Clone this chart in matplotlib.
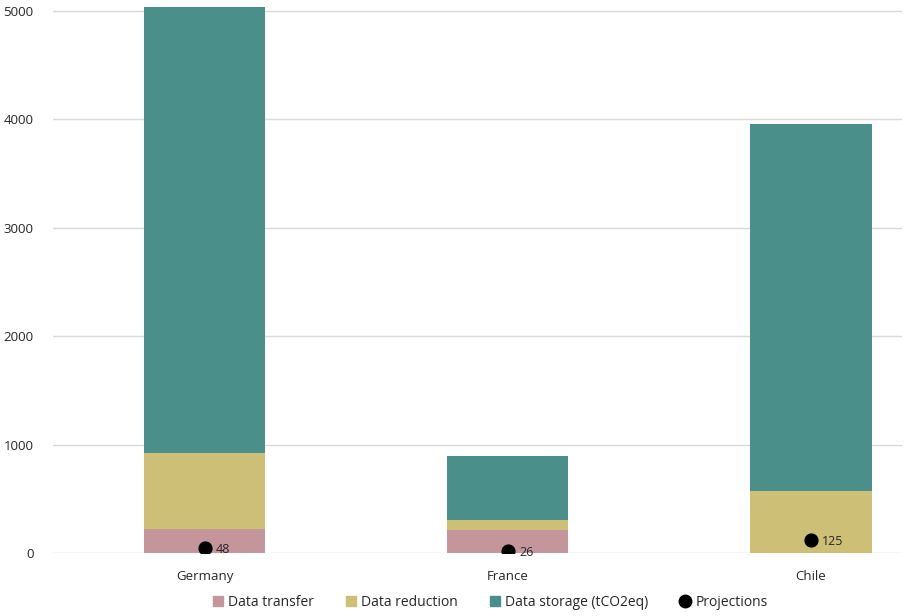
import matplotlib
matplotlib.use('Agg')
import matplotlib.pyplot as plt
from matplotlib.patches import Patch
from matplotlib.lines import Line2D
import numpy as np

countries = ['Germany', 'France', 'Chile']
data_transfer = [223, 217, 0]
data_reduction = [700, 92, 579]
data_storage = [4117, 592, 3379]
projections = [48, 26, 125]

c_transfer = '#C4969C'
c_reduction = '#CDC076'
c_storage = '#4A8F89'

plt.rcParams['font.family'] = ['Open Sans', 'DejaVu Sans']

fig = plt.figure(figsize=(9.08, 6.16), dpi=100)
ax = fig.add_axes([0.0584, 0.1015, 0.935, 0.8985])

x = np.arange(len(countries))
w = 0.4
b1 = np.array(data_transfer)
b2 = b1 + np.array(data_reduction)
ax.bar(x, data_transfer, w, color=c_transfer, zorder=2)
ax.bar(x, data_reduction, w, bottom=b1, color=c_reduction, zorder=2)
ax.bar(x, data_storage, w, bottom=b2, color=c_storage, zorder=2)

ax.scatter(x, projections, s=85, color='black', zorder=3)
for xi, v in zip(x, projections):
    ax.annotate(str(v), (xi, v), xytext=(8, -1), textcoords='offset points',
                va='center', ha='left', fontsize=9, color='#262626')

ax.set_xlim(-0.5, 2.3)
ax.set_ylim(0, 5100)
ax.set_yticks(range(0, 5001, 1000))
ax.set_xticks(x)
ax.set_xticklabels(countries)
ax.yaxis.grid(True, color='#D9D9D9', linewidth=1)
ax.set_axisbelow(True)
for s in ax.spines.values():
    s.set_visible(False)
ax.tick_params(axis='both', length=0, labelsize=9.5, colors='#262626')
ax.tick_params(axis='y', pad=14)
ax.tick_params(axis='x', pad=12)

handles = [Patch(color=c_transfer, label='Data transfer'),
           Patch(color=c_reduction, label='Data reduction'),
           Patch(color=c_storage, label='Data storage (tCO2eq)'),
           Line2D([], [], marker='o', color='black', linestyle='none',
                  markersize=9, label='Projections')]
fig.legend(handles=handles, loc='center', bbox_to_anchor=(0.54, 0.022), ncol=4,
           frameon=False, fontsize=10, handlelength=0.7, handleheight=0.7,
           handletextpad=0.4, columnspacing=2.3, labelcolor='#262626')

fig.savefig('out.png', dpi=100)
